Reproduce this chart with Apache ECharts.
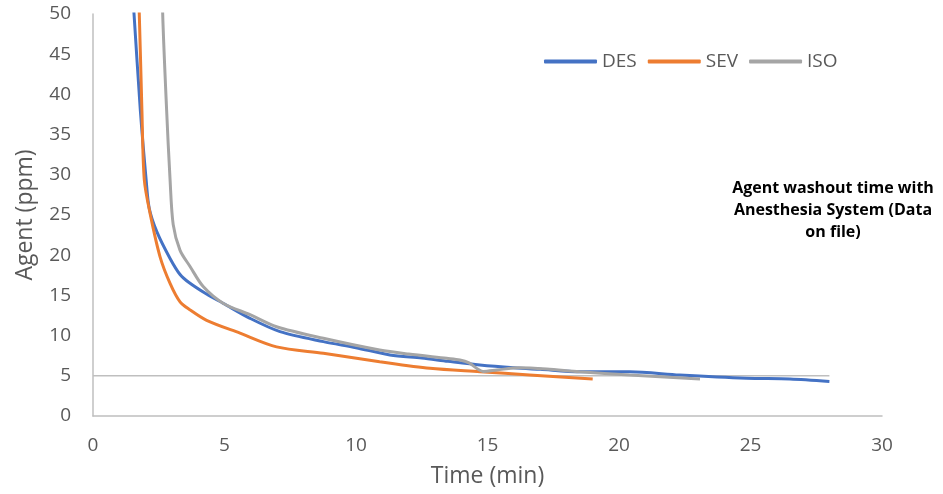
<!DOCTYPE html>
<html>
<head>
<meta charset="utf-8">
<script src="https://cdn.jsdelivr.net/npm/echarts@6/dist/echarts.min.js"></script>
<style>
  html, body { margin: 0; padding: 0; background: #fff; }
  #chart { width: 943px; height: 494px; }
</style>
</head>
<body>
<div id="chart"></div>
<script>
// 数据 (time in min, agent in ppm)
var desData = [[1.3, 62], [1.56, 50], [1.8, 38], [2.02, 29.4], [2.14, 25.8], [2.43, 22.9], [2.93, 19.6], [3.31, 17.6],
  [3.65, 16.6], [4.3, 15.2], [4.96, 14.0], [5.97, 12.15], [7.11, 10.5], [8.76, 9.25], [10, 8.5], [11.29, 7.6], [12.5, 7.2],
  [13.5, 6.8], [14.71, 6.35], [16, 6.0], [17, 5.8], [18.5, 5.5], [20.4, 5.5], [22.3, 5.1], [24.85, 4.7],
  [26.5, 4.6], [28, 4.3]];
var sevData = [[1.65, 60], [1.76, 50], [1.86, 38], [1.95, 29.4], [2.17, 25.2], [2.55, 19.8], [2.93, 16.5],
  [3.31, 14.2], [3.69, 13.2], [4.32, 11.9], [5.59, 10.3], [6.98, 8.6], [8.76, 7.8], [10.9, 6.76],
  [12.81, 5.93], [14.71, 5.51], [16.6, 5.1], [19.0, 4.6]];
var isoData = [[2.6, 60], [2.65, 50], [2.8, 38], [2.93, 29.4], [3.05, 23.8], [3.31, 20.6], [3.69, 18.6],
  [4.19, 16.1], [4.96, 14.0], [5.97, 12.6], [6.98, 11.1], [8.76, 9.66], [10.9, 8.2], [12, 7.7],
  [13.45, 7.17], [13.95, 6.97], [14.3, 6.6], [14.84, 5.55], [15.35, 5.72], [16.2, 6.01], [17.25, 5.85],
  [18.5, 5.5], [20.4, 5.1], [23.08, 4.6]];
var refData = [[0, 5], [28, 5]];
var legendNames = ['DES', 'SEV', 'ISO'];

var myChart = echarts.init(document.getElementById('chart'));
var font = '"Open Sans", sans-serif';

function lineSeries(name, data, color) {
    return {
        name: name,
        type: 'line',
        data: data,
        symbol: 'none',
        smooth: 0.3,
        clip: true,
        lineStyle: { color: color, width: 3 },
        itemStyle: { color: color },
        z: 3
    };
}

var option = {
    animation: false,
    grid: { left: 93, right: 61, top: 14, bottom: 78 },
    legend: {
        data: legendNames,
        left: 539,
        top: 47,
        icon: 'roundRect',
        itemWidth: 53,
        itemHeight: 4,
        itemGap: 11,
        textStyle: { fontFamily: font, fontSize: 19, color: '#595959' }
    },
    xAxis: {
        type: 'value',
        min: 0,
        max: 30,
        interval: 5,
        name: 'Time (min)',
        nameLocation: 'middle',
        nameGap: 49,
        nameTextStyle: { fontFamily: font, fontSize: 23, color: '#595959' },
        axisLine: { show: true, lineStyle: { color: '#bfbfbf', width: 1.5 } },
        axisTick: { show: false },
        splitLine: { show: false },
        axisLabel: { margin: 20, fontFamily: font, fontSize: 19, color: '#595959' }
    },
    yAxis: {
        type: 'value',
        min: 0,
        max: 50,
        interval: 5,
        name: 'Agent (ppm)',
        nameLocation: 'middle',
        nameRotate: 90,
        nameGap: 56,
        nameTextStyle: { fontFamily: font, fontSize: 23, color: '#595959' },
        axisLine: { show: true, lineStyle: { color: '#bfbfbf', width: 1.5 } },
        axisTick: { show: false },
        splitLine: { show: false },
        axisLabel: { margin: 22, fontFamily: font, fontSize: 19, color: '#595959' }
    },
    graphic: [{
        type: 'text',
        x: 833,
        y: 177,
        style: {
            text: 'Agent washout time with\nAnesthesia System (Data\non file)',
            font: 'bold 16px "Open Sans", sans-serif',
            fill: '#000',
            align: 'center',
            lineHeight: 22
        }
    }],
    series: [
        {
            name: 'ref',
            type: 'line',
            data: refData,
            symbol: 'none',
            silent: true,
            lineStyle: { color: '#bfbfbf', width: 1.5 },
            z: 1
        },
        lineSeries('DES', desData, '#4472C4'),
        lineSeries('SEV', sevData, '#ED7D31'),
        lineSeries('ISO', isoData, '#A5A5A5')
    ]
};
myChart.setOption(option);
</script>
</body>
</html>
